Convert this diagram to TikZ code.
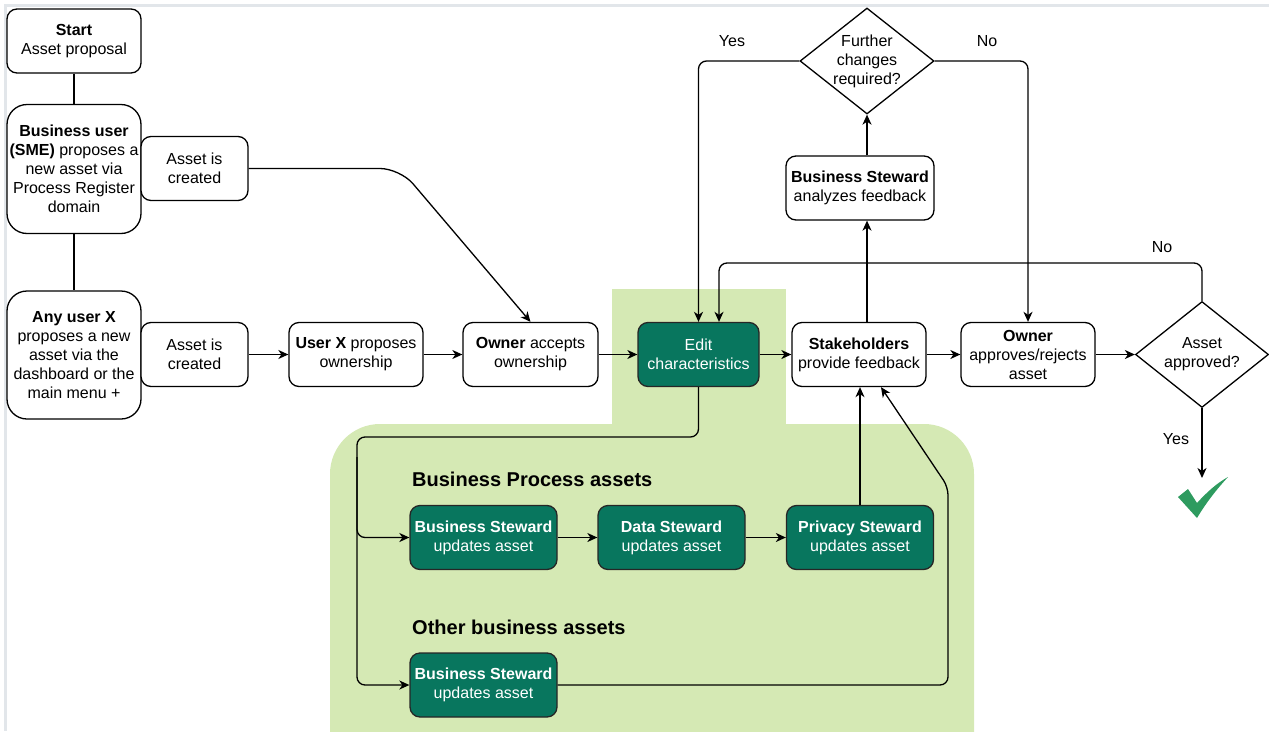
\documentclass[tikz,border=0pt]{standalone}
\usepackage{fontspec}
\setmainfont{Liberation Sans}
\usetikzlibrary{shapes.geometric,arrows.meta}
\definecolor{stewgreen}{RGB}{8,118,94}
\definecolor{areagreen}{RGB}{213,233,180}
\definecolor{tickgreen}{RGB}{46,155,95}
\definecolor{framegray}{RGB}{226,230,234}
\tikzset{
  box/.style={draw, rounded corners=10pt, line width=1.3pt, fill=white, align=center,
    inner sep=2pt, minimum height=64pt, font=\fontsize{16}{19}\selectfont},
  stewbox/.style={box, draw=black!85, fill=stewgreen, text=white, minimum width=147pt},
  decision/.style={draw, diamond, aspect=1.25, line width=1.3pt, fill=white, align=center,
    inner sep=-8pt, font=\fontsize{16}{19}\selectfont},
  conn/.style={line width=1.3pt, rounded corners=8pt, -{Stealth[length=10pt,width=9pt,inset=3pt]}},
  link/.style={line width=1.3pt},
  lbl/.style={font=\fontsize{16}{19}\selectfont},
  grouplbl/.style={anchor=west, inner sep=0pt, font=\fontsize{20}{24}\selectfont\bfseries}
}
\begin{document}
\begin{tikzpicture}[x=1pt,y=-1pt]
\useasboundingbox (0,0) rectangle (1269,731);
% screenshot frame
\draw[framegray, line width=3pt] (5,731) -- (5,5) -- (1269,5);
% green areas
\fill[areagreen] (612,289) rectangle (786,440);
\fill[areagreen, rounded corners=50pt] (330,424) rectangle (974,790);
%
% left column
\node[box, minimum width=134pt] (start) at (74,41) {\textbf{Start}\\Asset proposal};
\node[box, minimum width=134pt, minimum height=129pt, rounded corners=20pt] (bizuser) at (74,169)
  {\textbf{Business user}\\\textbf{(SME)} proposes a\\new asset via\\Process Register\\domain};
\node[box, minimum width=134pt, minimum height=128pt, rounded corners=20pt] (anyuser) at (74,355)
  {\textbf{Any user X}\\proposes a new\\asset via the\\dashboard or the\\main menu +};
\node[box, minimum width=107pt] (created1) at (194.5,168.5) {Asset is\\created};
\node[box, minimum width=107pt] (created2) at (194.5,354.5) {Asset is\\created};
%
% main row
\node[box, minimum width=134pt] (userx) at (356,354.5) {\textbf{User X} proposes\\ownership};
\node[box, minimum width=135pt] (owneracc) at (530.5,354.5) {\textbf{Owner} accepts\\ownership};
\node[stewbox, minimum width=121pt] (edit) at (698.5,354.5) {Edit\\characteristics};
\node[box, minimum width=134pt] (stake) at (859,354.5) {\textbf{Stakeholders}\\provide feedback};
\node[box, minimum width=134pt] (ownerapp) at (1028,354.5) {\textbf{Owner}\\approves/rejects\\asset};
\node[decision, minimum width=133pt, minimum height=106pt] (approved) at (1202,354.5) {Asset\\approved?};
%
% feedback loop
\node[box, minimum width=148pt] (analyze) at (860,188) {\textbf{Business Steward}\\analyzes feedback};
\node[decision, minimum width=134pt, minimum height=106pt] (further) at (867,61) {Further\\changes\\required?};
%
% stewards
\node[grouplbl] (lblproc) at (412,479) {Business Process assets};
\node[grouplbl] (lblother) at (412,627) {Other business assets};
\node[stewbox] (bsproc) at (483.5,537.5) {\textbf{Business Steward}\\updates asset};
\node[stewbox] (datast) at (671.5,537.5) {\textbf{Data Steward}\\updates asset};
\node[stewbox] (privst) at (860,537.5) {\textbf{Privacy Steward}\\updates asset};
\node[stewbox] (bsother) at (483.5,685) {\textbf{Business Steward}\\updates asset};
%
% connectors
\draw[link] (start) -- (bizuser);
\draw[link] (bizuser) -- (anyuser);
\draw[conn, rounded corners=20pt] (created1.east) -- (400,168.5) -- (owneracc.north);
\draw[conn] (created2) -- (userx);
\draw[conn] (userx) -- (owneracc);
\draw[conn] (owneracc) -- (edit);
\draw[conn] (edit) -- (stake);
\draw[conn] (stake) -- (ownerapp);
\draw[conn] (ownerapp) -- (approved);
\draw[conn] (stake.north -| further) -- (analyze.south -| further);
\draw[conn] (analyze.north -| further) -- (further.south);
\draw[conn] (further.west) -| (edit.north);
\draw[conn] (further.east) -| (ownerapp.north);
\coordinate (noturn) at (719,263);
\draw[conn] (approved.north) |- (noturn) -- (noturn |- edit.north);
\coordinate (checktop) at (1202,478);
\draw[conn] (approved.south) -- (checktop);
\coordinate (split) at (357,437);
\draw[conn] (edit.south) |- (split) |- (bsproc.west);
\draw[conn] ([yshift=-20pt]split) |- (bsother.west);
\draw[conn] (bsproc) -- (datast);
\draw[conn] (datast) -- (privst);
\draw[conn] (privst.north) -- (privst.north |- stake.south);
\coordinate (backturn) at (948,487);
\draw[conn] (bsother.east) -| (backturn) -- ([xshift=22pt]stake.south);
%
% labels
\node[lbl] (yes1) at (732,41) {Yes};
\node[lbl] (no1) at (987,41) {No};
\node[lbl] (no2) at (1162,247) {No};
\node[lbl] (yes2) at (1176,439) {Yes};
%
% tick
\fill[tickgreen] (1178,497) -- (1188,489) -- (1197,503)
  .. controls (1207,492) and (1217,483) .. (1228,477)
  .. controls (1216,490) and (1206,503) .. (1197,518) -- cycle;
\end{tikzpicture}
\end{document}
